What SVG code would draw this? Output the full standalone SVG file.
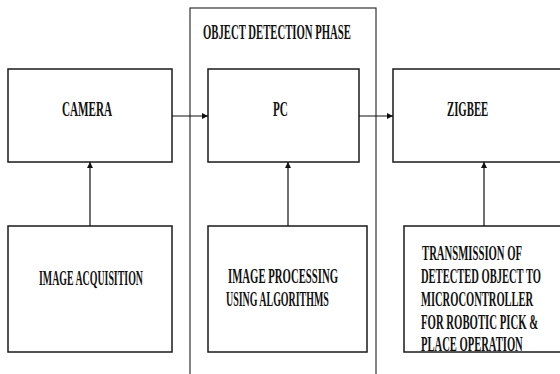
<svg xmlns="http://www.w3.org/2000/svg" width="560" height="374" viewBox="0 0 560 374">
  <style>
    .box { fill: #fff; stroke: #1a1a1a; stroke-width: 1.5; }
    .phase { fill: none; stroke: #333; stroke-width: 1.2; }
    .lbl { font-family: "Liberation Serif", "Times New Roman", serif; font-weight: bold; font-size: 20px; fill: #111; }
    .conn { stroke: #111; stroke-width: 1.2; fill: none; }
  </style>
  <defs>
    <marker id="arrow" viewBox="0 0 10 10" refX="10" refY="5" markerWidth="6" markerHeight="6" markerUnits="userSpaceOnUse" orient="auto">
      <path d="M0,0 L10,5 L0,10 Z" fill="#111"/>
    </marker>
  </defs>
  <rect width="560" height="374" fill="#fff"/>

  <!-- labels are set in a condensed bold serif: horizontal scale 0.55 -->

  <!-- object detection phase panel -->
  <g id="phase">
    <rect class="phase" x="190" y="8" width="186" height="380"/>
    <text class="lbl" transform="matrix(0.55 0 0 1 203 39)" font-size="18.5" textLength="269" lengthAdjust="spacingAndGlyphs">OBJECT DETECTION PHASE</text>
  </g>

  <g id="camera">
    <rect class="box" x="8" y="69" width="164" height="93"/>
    <text class="lbl" transform="matrix(0.55 0 0 1 62 116)" textLength="91" lengthAdjust="spacingAndGlyphs">CAMERA</text>
  </g>

  <g id="pc">
    <rect class="box" x="208" y="69" width="151" height="93"/>
    <text class="lbl" transform="matrix(0.55 0 0 1 273 116)" textLength="27" lengthAdjust="spacingAndGlyphs">PC</text>
  </g>

  <g id="zigbee">
    <rect class="box" x="393" y="69" width="180" height="93"/>
    <text class="lbl" transform="matrix(0.55 0 0 1 447 116)" textLength="75" lengthAdjust="spacingAndGlyphs">ZIGBEE</text>
  </g>

  <g id="acquisition">
    <rect class="box" x="8" y="226" width="164" height="126"/>
    <text class="lbl" transform="matrix(0.55 0 0 1 39 285)" textLength="189" lengthAdjust="spacingAndGlyphs">IMAGE ACQUISITION</text>
  </g>

  <g id="processing">
    <rect class="box" x="208" y="226" width="159" height="126"/>
    <text class="lbl" transform="matrix(0.55 0 0 1 228 283)" textLength="200" lengthAdjust="spacingAndGlyphs">IMAGE PROCESSING</text>
    <text class="lbl" transform="matrix(0.55 0 0 1 226 306)" textLength="187" lengthAdjust="spacingAndGlyphs">USING ALGORITHMS</text>
  </g>

  <g id="transmission">
    <rect class="box" x="404" y="226" width="170" height="126"/>
    <text class="lbl" transform="matrix(0.55 0 0 1 422 260)" textLength="182" lengthAdjust="spacingAndGlyphs">TRANSMISSION OF</text>
    <text class="lbl" transform="matrix(0.55 0 0 1 421 283)" textLength="218" lengthAdjust="spacingAndGlyphs">DETECTED OBJECT TO</text>
    <text class="lbl" transform="matrix(0.55 0 0 1 421 306)" textLength="204" lengthAdjust="spacingAndGlyphs">MICROCONTROLLER</text>
    <text class="lbl" transform="matrix(0.55 0 0 1 421 329)" textLength="213" lengthAdjust="spacingAndGlyphs">FOR ROBOTIC PICK &amp;</text>
    <text class="lbl" transform="matrix(0.55 0 0 1 421 351)" textLength="185" lengthAdjust="spacingAndGlyphs">PLACE OPERATION</text>
  </g>

  <g id="connectors">
    <line class="conn" x1="172" y1="116" x2="208" y2="116" marker-end="url(#arrow)"/>
    <line class="conn" x1="359" y1="116" x2="393" y2="116" marker-end="url(#arrow)"/>
    <line class="conn" x1="90" y1="226" x2="90" y2="162" marker-end="url(#arrow)"/>
    <line class="conn" x1="288" y1="226" x2="288" y2="162" marker-end="url(#arrow)"/>
    <line class="conn" x1="484" y1="226" x2="484" y2="162" marker-end="url(#arrow)"/>
  </g>
</svg>
